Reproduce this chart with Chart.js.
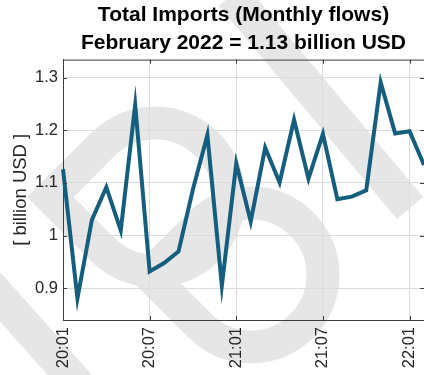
<!DOCTYPE html>
<html>
<head>
<meta charset="utf-8">
<script src="https://cdn.jsdelivr.net/npm/chart.js@4/dist/chart.umd.min.js"></script>
<style>
  html, body { margin: 0; padding: 0; background: #fff; }
  #wrap { width: 424px; height: 375px; }
</style>
</head>
<body>
<div id="wrap"><canvas id="imports" width="424" height="375"></canvas></div>
<script>
// monthly totals, Jan 2020 .. Feb 2022
const months = ['20:01','20:02','20:03','20:04','20:05','20:06','20:07','20:08','20:09','20:10','20:11','20:12',
                '21:01','21:02','21:03','21:04','21:05','21:06','21:07','21:08','21:09','21:10','21:11','21:12',
                '22:01','22:02'];
const imports = [1.126, 0.881, 1.030, 1.092, 1.010, 1.248, 0.932, 0.948, 0.970, 1.088, 1.191, 0.905,
                 1.137, 1.027, 1.167, 1.101, 1.220, 1.108, 1.193, 1.069, 1.074, 1.086, 1.291, 1.194,
                 1.198, 1.134];
const yTicks = [0.9, 1.0, 1.1, 1.2, 1.3];
const titleLines = ['Total Imports (Monthly flows)', 'February 2022 = 1.13 billion USD'];

const frameCol = '#3c3c3c';
const textCol = '#262626';
const FONT = 'Liberation Sans, Arial, sans-serif';

// grey logo in the background
const watermark = {
  id: 'watermark',
  beforeDraw(chart) {
    const c = chart.ctx;
    const rad = d => d * Math.PI / 180;
    // drop shape: circle with a sharp corner pointing left
    const drop = (cx, cy, r) => {
      c.beginPath();
      c.moveTo(cx - r * Math.SQRT2, cy);
      c.lineTo(cx + r * Math.cos(rad(225)), cy + r * Math.sin(rad(225)));
      c.arc(cx, cy, r, rad(225), rad(495));
      c.closePath();
      c.stroke();
    };
    c.save();
    c.strokeStyle = '#e6e6e6';
    c.lineCap = 'butt';
    c.lineJoin = 'miter';
    c.lineWidth = 34;
    c.beginPath(); c.moveTo(232, -5); c.lineTo(410, 208); c.stroke();
    c.lineWidth = 33;
    c.beginPath(); c.moveTo(-15, 280); c.lineTo(85, 392); c.stroke();
    c.lineWidth = 33;
    drop(155, 197, 74);
    drop(251, 275, 72);
    c.restore();
  }
};

// box on top + inward tick marks
const frame = {
  id: 'frame',
  afterDraw(chart) {
    const c = chart.ctx, a = chart.chartArea;
    const xs = chart.scales.x, ys = chart.scales.y;
    c.save();
    c.strokeStyle = frameCol;
    c.lineWidth = 1;
    c.beginPath();
    c.moveTo(a.left, a.top + 0.5); c.lineTo(a.right, a.top + 0.5);
    for (let i = 0; i < months.length; i += 6) {
      const x = Math.round(xs.getPixelForValue(i)) + 0.5;
      c.moveTo(x, a.top); c.lineTo(x, a.top + 4);
      c.moveTo(x, a.bottom); c.lineTo(x, a.bottom - 4);
    }
    yTicks.forEach(v => {
      const y = Math.round(ys.getPixelForValue(v)) + 0.5;
      c.moveTo(a.left, y); c.lineTo(a.left + 4, y);
      c.moveTo(a.right, y); c.lineTo(a.right - 4, y);
    });
    c.stroke();
    c.restore();
  }
};

new Chart(document.getElementById('imports'), {
  type: 'line',
  data: {
    labels: months,
    datasets: [{
      data: imports,
      borderColor: '#155e7e',
      borderWidth: 4,
      pointRadius: 0,
      tension: 0,
      fill: false
    }]
  },
  options: {
    responsive: false,
    animation: false,
    layout: { padding: 0 },
    plugins: {
      legend: { display: false },
      tooltip: { enabled: false },
      title: {
        display: true,
        text: titleLines,
        fullSize: false,
        color: '#000',
        font: { family: FONT, size: 21, weight: 'bold', lineHeight: 1.3 },
        padding: { top: 2, bottom: 3 }
      }
    },
    scales: {
      x: {
        offset: false,
        border: { color: frameCol, width: 1 },
        grid: {
          drawTicks: false,
          color: c => (c.index % 6 === 0 ? '#dcdcdc' : 'rgba(0,0,0,0)')
        },
        ticks: {
          autoSkip: false,
          minRotation: 90,
          maxRotation: 90,
          padding: 7,
          color: textCol,
          font: { family: FONT, size: 16.5 },
          callback: function (v, i) { return i % 6 === 0 ? months[i] : ''; }
        },
        afterFit: s => { s.height = 55; s.paddingLeft = 0; s.paddingRight = 0; }
      },
      y: {
        min: 0.84,
        max: 1.334,
        border: { color: frameCol, width: 1 },
        grid: { drawTicks: false, color: '#dcdcdc' },
        afterBuildTicks: s => { s.ticks = yTicks.map(v => ({ value: v })); },
        ticks: {
          padding: 5,
          color: textCol,
          font: { family: FONT, size: 16.5 },
          callback: v => String(Math.round(v * 10) / 10)
        },
        title: {
          display: true,
          text: '[ billion USD ]',
          color: textCol,
          font: { family: FONT, size: 18.5 },
          padding: { top: 10, bottom: 0 }
        },
        afterFit: s => { s.width = 63; s.paddingTop = 0; s.paddingBottom = 0; }
      }
    }
  },
  plugins: [watermark, frame]
});
</script>
</body>
</html>
